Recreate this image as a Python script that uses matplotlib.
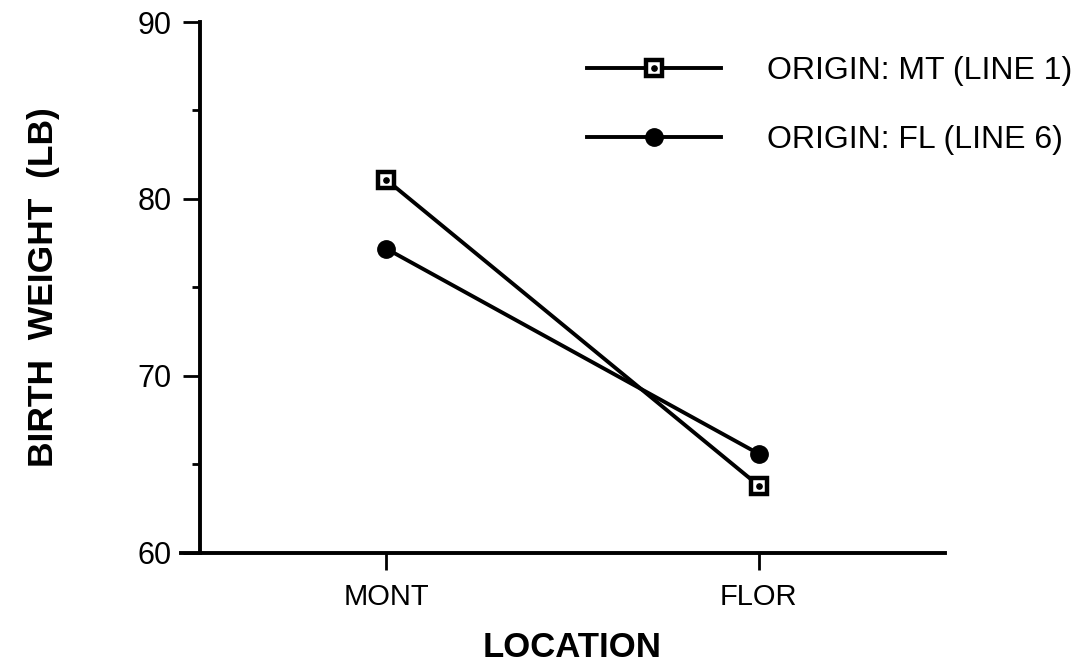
import matplotlib
matplotlib.use("Agg")
import matplotlib.pyplot as plt
from matplotlib.legend_handler import HandlerTuple

locations = ["MONT", "FLOR"]
mt_line1 = [81.1, 63.8]
fl_line6 = [77.2, 65.6]
series_labels = ["ORIGIN: MT (LINE 1)", "ORIGIN: FL (LINE 6)"]
yticks = [60, 70, 80, 90]
yminor = [65, 75, 85]

plt.rcParams['font.family'] = ['Liberation Sans', 'DejaVu Sans']

fig = plt.figure(figsize=(10.79, 6.67), dpi=100)
ax = fig.add_axes([0.185, 0.171, 0.691, 0.796])

x = [1, 2]
lw = 2.8
l1, = ax.plot(x, mt_line1, color='black', lw=lw, marker='s', markersize=12,
              markerfacecolor='white', markeredgecolor='black', markeredgewidth=3.2, zorder=3)
l1d, = ax.plot(x, mt_line1, linestyle='none', marker='o', markersize=3.8,
               color='black', zorder=4)
l2, = ax.plot(x, fl_line6, color='black', lw=lw, marker='o', markersize=12.5,
              markerfacecolor='black', markeredgecolor='black', zorder=3)

ax.set_xlim(0.5, 2.5)
ax.set_ylim(60, 90)
ax.set_xticks(x)
ax.set_xticklabels(locations, fontsize=21)
ax.set_yticks(yticks)
ax.set_yticklabels([str(v) for v in yticks], fontsize=22)
ax.set_yticks(yminor, minor=True)
ax.tick_params(axis='y', which='major', length=12, width=2, pad=8)
ax.tick_params(axis='y', which='minor', length=6, width=2)
ax.tick_params(axis='x', which='major', length=12, width=2, pad=10)

for s in ['top', 'right']:
    ax.spines[s].set_visible(False)
for s in ['left', 'bottom']:
    ax.spines[s].set_linewidth(2.8)
ax.spines['bottom'].set_bounds(0.45, 2.5)

ax.set_xlabel("LOCATION", fontsize=25, fontweight='bold', labelpad=14)
ax.set_ylabel("BIRTH  WEIGHT  (LB)", fontsize=25.5, fontweight='bold', labelpad=56)

leg = fig.legend([(l1, l1d), l2], series_labels,
                 handler_map={tuple: HandlerTuple(ndivide=1, pad=0)},
                 loc='upper left', bbox_to_anchor=(0.517, 0.959), frameon=False,
                 fontsize=23, handlelength=4.2, handletextpad=1.44, labelspacing=1.215)

fig.savefig("out.png", dpi=100)
